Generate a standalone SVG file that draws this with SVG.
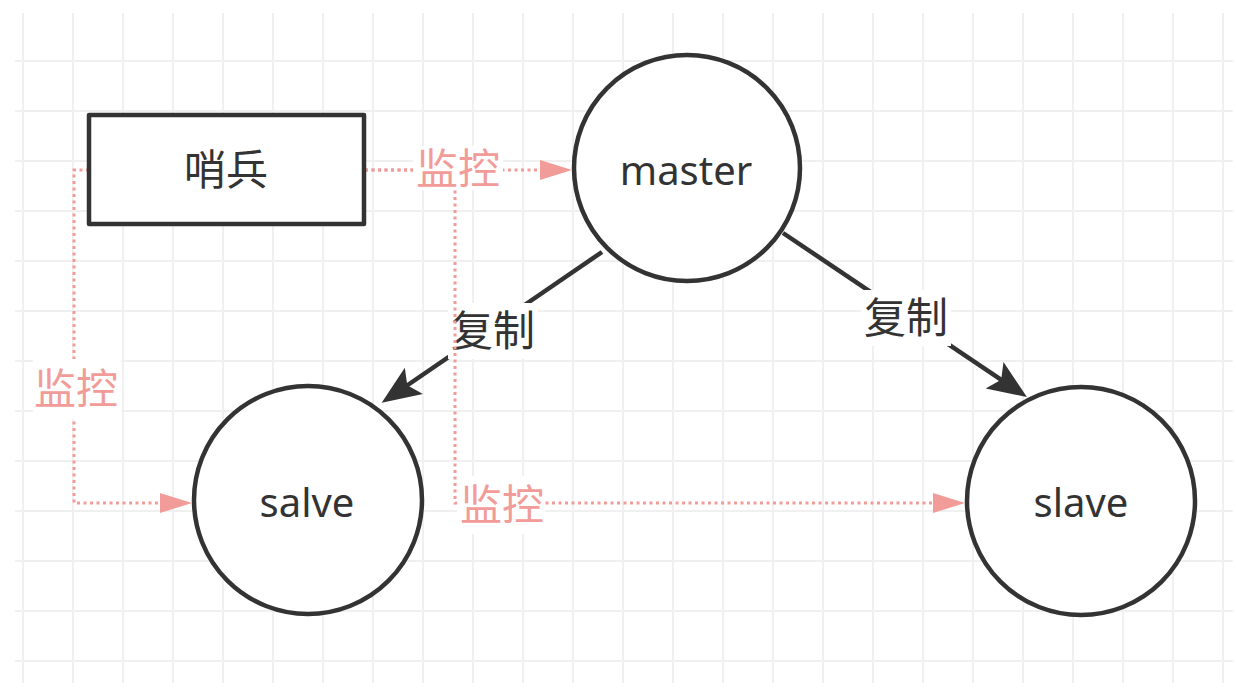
<svg xmlns="http://www.w3.org/2000/svg" width="1236" height="690" viewBox="0 0 1236 690">
<style>
.grid line{stroke:#f0f0f0;stroke-width:2}
.node{fill:#ffffff;stroke:#333333;stroke-width:4.5;stroke-linejoin:round}
.lat{font-family:"Noto Sans","Open Sans","DejaVu Sans",sans-serif;font-size:40px;fill:#333333;text-anchor:middle}
.cjk{font-family:"Noto Sans","Noto Sans CJK SC",sans-serif;font-size:42px;fill:#333333;text-anchor:middle}
.pinkt{fill:#F19C99}
.bg{fill:#ffffff}
.cp{fill:none;stroke:#333333;stroke-width:4.5}
.mp{fill:none;stroke:#F19C99;stroke-width:3;stroke-dasharray:3 3.5}
</style>
<defs>
<marker id="blk" markerUnits="userSpaceOnUse" orient="auto" refX="0" refY="0" markerWidth="60" markerHeight="40" overflow="visible">
<path d="M21,0 L-18,-16 L-10,0 L-18,16 Z" fill="#333333"/>
</marker>
<marker id="pnk" markerUnits="userSpaceOnUse" orient="auto" refX="0" refY="0" markerWidth="40" markerHeight="30" overflow="visible">
<path d="M20,0 L-12,-10 L-12,10 Z" fill="#F19C99"/>
</marker>
</defs>
<rect x="0" y="0" width="1236" height="690" fill="#ffffff"/>
<g class="grid">
<line x1="23" y1="13" x2="23" y2="683"/><line x1="73" y1="13" x2="73" y2="683"/><line x1="123" y1="13" x2="123" y2="683"/><line x1="173" y1="13" x2="173" y2="683"/><line x1="223" y1="13" x2="223" y2="683"/><line x1="273" y1="13" x2="273" y2="683"/><line x1="323" y1="13" x2="323" y2="683"/><line x1="373" y1="13" x2="373" y2="683"/><line x1="423" y1="13" x2="423" y2="683"/><line x1="473" y1="13" x2="473" y2="683"/><line x1="523" y1="13" x2="523" y2="683"/><line x1="573" y1="13" x2="573" y2="683"/><line x1="623" y1="13" x2="623" y2="683"/><line x1="673" y1="13" x2="673" y2="683"/><line x1="723" y1="13" x2="723" y2="683"/><line x1="773" y1="13" x2="773" y2="683"/><line x1="823" y1="13" x2="823" y2="683"/><line x1="873" y1="13" x2="873" y2="683"/><line x1="923" y1="13" x2="923" y2="683"/><line x1="973" y1="13" x2="973" y2="683"/><line x1="1023" y1="13" x2="1023" y2="683"/><line x1="1073" y1="13" x2="1073" y2="683"/><line x1="1123" y1="13" x2="1123" y2="683"/><line x1="1173" y1="13" x2="1173" y2="683"/><line x1="1223" y1="13" x2="1223" y2="683"/>
<line x1="15" y1="61" x2="1233" y2="61"/><line x1="15" y1="111" x2="1233" y2="111"/><line x1="15" y1="161" x2="1233" y2="161"/><line x1="15" y1="211" x2="1233" y2="211"/><line x1="15" y1="261" x2="1233" y2="261"/><line x1="15" y1="311" x2="1233" y2="311"/><line x1="15" y1="361" x2="1233" y2="361"/><line x1="15" y1="411" x2="1233" y2="411"/><line x1="15" y1="461" x2="1233" y2="461"/><line x1="15" y1="511" x2="1233" y2="511"/><line x1="15" y1="561" x2="1233" y2="561"/><line x1="15" y1="611" x2="1233" y2="611"/><line x1="15" y1="661" x2="1233" y2="661"/>
</g>
<g id="connectors">
<g id="edge-master-salve">
<path class="cp" d="M602,252 L399,391" marker-end="url(#blk)"/>
<rect class="bg" x="448" y="303" width="90" height="56"/>
<text class="cjk" x="493" y="346">复制</text>
</g>
<g id="edge-master-slave">
<path class="cp" d="M783,233 L1009.5,385.3" marker-end="url(#blk)"/>
<rect class="bg" x="861" y="290" width="90" height="56"/>
<text class="cjk" x="906" y="333">复制</text>
</g>
<g id="edge-sentinel-salve">
<path class="mp" d="M89,170 L74,170 L74,503 L172,503" marker-end="url(#pnk)"/>
<rect class="bg" x="33" y="359" width="88" height="60"/>
<text class="cjk pinkt" x="76" y="404">监控</text>
</g>
<g id="edge-sentinel-slave">
<path class="mp" d="M365,170 L455,170 L455,503 L945,503" marker-end="url(#pnk)"/>
<rect class="bg" x="457" y="476" width="88" height="58"/>
<text class="cjk pinkt" x="502" y="520">监控</text>
</g>
<g id="edge-sentinel-master">
<path class="mp" d="M365,170 L552,170" marker-end="url(#pnk)"/>
<rect class="bg" x="413" y="146" width="90" height="44"/>
<text class="cjk pinkt" x="458" y="184">监控</text>
</g>
</g>
<g id="node-sentinel">
<rect class="node" x="89" y="115" width="275" height="109"/>
<text class="cjk" x="226" y="185">哨兵</text>
</g>
<g id="node-master">
<circle class="node" cx="687" cy="168" r="113"/>
<text class="lat" x="686" y="185">master</text>
</g>
<g id="node-salve">
<circle class="node" cx="308" cy="500" r="114"/>
<text class="lat" x="307" y="517">salve</text>
</g>
<g id="node-slave">
<circle class="node" cx="1081" cy="501" r="114"/>
<text class="lat" x="1081" y="517">slave</text>
</g>
</svg>
